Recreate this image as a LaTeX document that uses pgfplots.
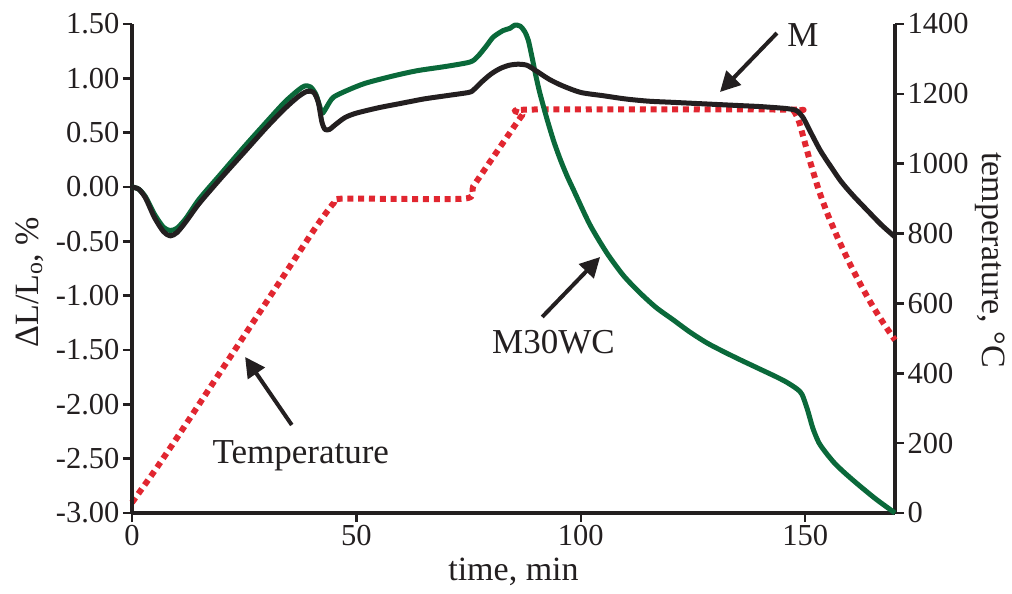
\documentclass[border=0pt]{standalone}
\usepackage{fontspec}
\setmainfont{Liberation Serif}
\usepackage{pgfplots}
\pgfplotsset{compat=1.18}
\usetikzlibrary{arrows.meta}
\definecolor{axiscol}{RGB}{35,31,32}
\definecolor{mgreen}{RGB}{10,105,58}
\definecolor{tred}{RGB}{225,38,48}
\pgfplotsset{
  base/.style={
    scale only axis, width=763pt, height=489pt,
    at={(132pt,81pt)}, anchor=south west,
    xmin=0, xmax=170, clip=false,
    axis line style={-, line width=3.5pt, color=axiscol},
    tick style={line width=2.5pt, color=axiscol},
    major tick length=9pt, tick align=outside,
    /pgf/number format/assume math mode=true,
    every tick label/.append style={font=\fontsize{30.5}{36}\selectfont, color=axiscol},
    label style={font=\fontsize{34}{40}\selectfont, color=axiscol},
  }
}
\begin{document}
\begin{tikzpicture}[font=\fontsize{35}{42}\selectfont]
\path[use as bounding box] (0,0) rectangle (1012pt,594pt);
% temperature axis (right)
\begin{axis}[base,
  axis x line=none, axis y line*=right,
  ymin=0, ymax=1400, ytick={0,200,...,1400},
  yticklabel style={/pgf/number format/1000 sep={}},
  ylabel={temperature, °C},
  ylabel style={at={(axis description cs:1.1245,0.517)}, rotate=180, anchor=center},
]
\addplot[tred, line width=6pt, dash pattern=on 6pt off 4.8pt, line join=round, smooth, tension=0.4] coordinates {
(0,30) (5,120) (10,215) (20,410) (30,605) (40,800) (43,855) (45,888) (47,900)
(74,900) (76,935) (80,1010) (84,1085) (87,1140) (88.5,1155)
(146.5,1155) (147.5,1150) (148.5,1125) (149.5,1080) (151,1010) (153,925) (155,855)
(157.5,780) (160,712) (162.5,650) (165,593) (167.5,542) (170,495)
};
\end{axis}
% dilatation axis (left)
\begin{axis}[base,
  axis x line*=bottom, axis y line*=left,
  ymin=-3, ymax=1.5, ytick={-3,-2.5,...,1.5},
  xtick={0,50,100,150},
  yticklabel style={/pgf/number format/.cd, fixed, fixed zerofill, precision=2},
  xlabel={time, min},
  ylabel={ΔL/L\textsubscript{o}, \%},
  xlabel style={at={(axis description cs:0.5,-0.12)}, anchor=center},
  ylabel style={at={(axis description cs:-0.134,0.472)}, rotate=0, anchor=center},
]
\addplot[mgreen, line width=5pt, line join=round, smooth, tension=0.45] coordinates {
(0,0.00) (1.5,-0.02) (3,-0.09) (5,-0.25) (7,-0.37) (8.5,-0.40) (10,-0.38) (12,-0.29)
(15,-0.11) (20,0.13) (25,0.37) (30,0.60) (34,0.78) (37,0.89) (38.5,0.93) (39.8,0.92)
(41,0.85) (42,0.72) (42.5,0.68) (44,0.78) (45,0.83) (48,0.89) (52,0.955) (58,1.02)
(63.5,1.07) (70,1.11) (75.3,1.15) (77,1.20) (79,1.30) (80.5,1.38) (82.7,1.44)
(84.2,1.46) (85.3,1.49) (86.5,1.48) (87.5,1.43) (88.3,1.35) (89.1,1.20) (90,1.02)
(90.9,0.86) (92.5,0.62) (94,0.417) (95.5,0.245) (97,0.095) (98.3,-0.02) (102,-0.345)
(105.8,-0.607) (109.5,-0.815)
(113.2,-0.975) (116.8,-1.11) (120.5,-1.22) (124.3,-1.335) (128.1,-1.435) (131.8,-1.515)
(135.5,-1.59) (139.6,-1.67) (143.7,-1.75) (146,-1.80) (148.2,-1.86) (149.3,-1.91)
(150.5,-2.05) (151.7,-2.22) (153,-2.35) (154.5,-2.44) (156.5,-2.54) (158.5,-2.62)
(160.7,-2.70) (163,-2.78) (166,-2.88) (170,-3.00)
};
\addplot[axiscol, line width=5pt, line join=round, smooth, tension=0.45] coordinates {
(0,0.00) (1.5,-0.02) (3,-0.10) (5,-0.28) (7,-0.41) (8.5,-0.45) (10,-0.42) (12,-0.32)
(15,-0.15) (20,0.09) (25,0.32) (30,0.55) (34,0.72) (37,0.83) (39,0.88) (40.5,0.87)
(41.5,0.78) (42.3,0.60) (43,0.53) (44,0.53) (45.5,0.58) (47.5,0.64) (50,0.68)
(55,0.73) (60,0.77) (65,0.81) (70,0.84) (75,0.87) (76,0.89) (78,0.97) (80,1.04)
(82,1.09) (84,1.12) (86,1.13) (88,1.12) (90,1.07) (93,0.99) (96,0.93) (100,0.87)
(105,0.84) (110,0.81) (115,0.79) (120,0.78) (125,0.77) (130,0.76) (135,0.75)
(140,0.74) (145,0.725) (147,0.715) (148.2,0.70) (149.5,0.64) (151,0.52) (153.3,0.34)
(155.5,0.20) (158,0.05) (160.7,-0.08) (164.4,-0.24) (167,-0.35) (170,-0.46)
};
\draw[-{Triangle[length=20pt,width=20pt]}, line width=4pt, axiscol] (axis cs:143.7,1.417) -- (axis cs:131,0.874);
\node[axiscol] at (axis cs:149.5,1.40) {M};
\draw[-{Triangle[length=20pt,width=20pt]}, line width=4pt, axiscol] (axis cs:91.4,-1.196) -- (axis cs:104.3,-0.644);
\node[axiscol] at (axis cs:93.9,-1.426) {M30WC};
\draw[-{Triangle[length=20pt,width=20pt]}, line width=4pt, axiscol] (axis cs:35.6,-2.19) -- (axis cs:25.2,-1.564);
\node[axiscol] at (axis cs:37.6,-2.475) {Temperature};
\end{axis}
\end{tikzpicture}
\end{document}
